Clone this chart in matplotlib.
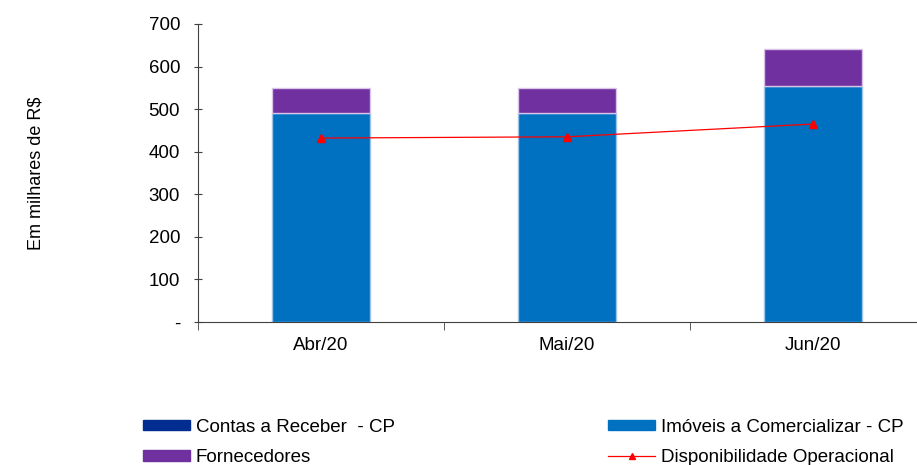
import numpy as np
import matplotlib
matplotlib.use('Agg')
from matplotlib import pyplot as plt
from matplotlib.patches import Patch
from matplotlib.lines import Line2D

#%% Data
meses = ['Abr/20', 'Mai/20', 'Jun/20']
contas_receber = [0, 0, 0]
imoveis = [491, 491, 554]
fornecedores = [58, 58, 87]
disponibilidade = [432, 435, 465]
y_ticks = [0, 100, 200, 300, 400, 500, 600, 700]
y_ticklabels = ['-', '100', '200', '300', '400', '500', '600', '700']

c_contas = '#002D8F'
c_imoveis = '#0070C0'
c_forn = '#7030A0'
c_disp = '#FF0000'

plt.rcParams['font.family'] = ['Liberation Sans', 'DejaVu Sans']
fs = 13.5

#%% Figure
fig = plt.figure(figsize=(9.17, 4.65), dpi=100)
ax = fig.add_axes([0.216, 0.3075, 0.805, 0.641])

x = np.arange(len(meses)) + 0.5
w = 0.4
b1 = np.array(contas_receber)
b2 = b1 + np.array(imoveis)
ax.bar(x, contas_receber, w, color=c_contas, edgecolor='white', linewidth=1)
ax.bar(x, imoveis, w, bottom=b1, color=c_imoveis, edgecolor='#9DC3E6', linewidth=1)
ax.bar(x, fornecedores, w, bottom=b2, color=c_forn, edgecolor='#D9C3E9', linewidth=1)
ax.plot(x, disponibilidade, color=c_disp, linewidth=0.9, marker='^', markersize=6)

ax.set_xlim(0, 3)
ax.set_ylim(0, 700)
ax.set_yticks(y_ticks)
ax.set_yticklabels(y_ticklabels, fontsize=fs)
ax.set_xticks(x)
ax.set_xticklabels(meses, fontsize=fs)
ax.tick_params(axis='x', which='major', length=0, pad=11)
ax.set_xticks([0, 1, 2, 3], minor=True)
ax.tick_params(axis='x', which='minor', length=6, direction='out', color='#404040')
ax.tick_params(axis='y', length=6, direction='inout', pad=10, color='#404040')
for s in ['top', 'right']:
    ax.spines[s].set_visible(False)
for s in ['left', 'bottom']:
    ax.spines[s].set_color('#404040')
ax.set_ylabel('Em milhares de R$', fontsize=13, labelpad=75)

#%% Legend
handles = [Patch(color=c_contas), Patch(color=c_forn), Patch(color=c_imoveis),
           Line2D([0], [0], color=c_disp, linewidth=0.9, marker='^', markersize=5)]
labels = ['Contas a Receber  - CP', 'Fornecedores', 'Imóveis a Comercializar - CP',
          'Disponibilidade Operacional']
fig.legend(handles, labels, ncol=2, loc='upper left', bbox_to_anchor=(0.148, 0.115),
           frameon=False, fontsize=fs, handlelength=2.5, handleheight=0.45,
           handletextpad=0.3, columnspacing=11.4, labelspacing=0.7, borderaxespad=0)

plt.savefig('out.png', dpi=100)
